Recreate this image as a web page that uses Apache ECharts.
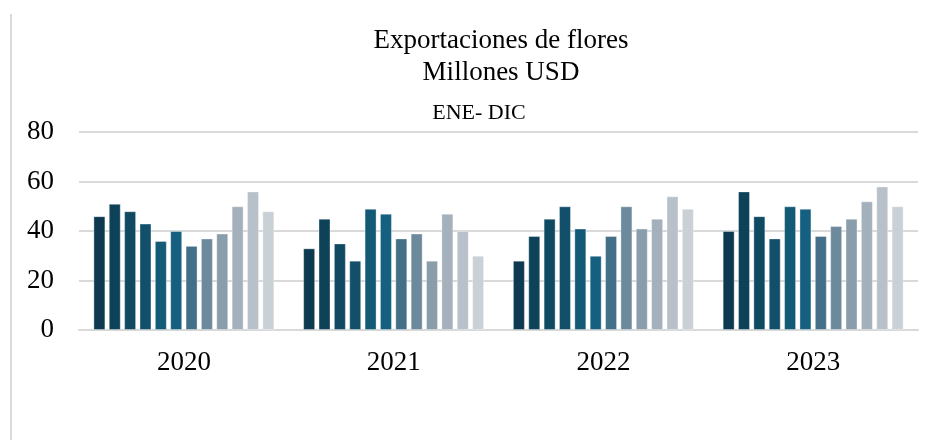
<!DOCTYPE html>
<html>
<head>
<meta charset="utf-8">
<script src="https://cdn.jsdelivr.net/npm/echarts@6/dist/echarts.min.js"></script>
<style>
  html, body { margin: 0; padding: 0; background: #fff; }
  #main { width: 935px; height: 440px; }
  #edge { position: absolute; left: 10px; top: 14px; width: 0; height: 426px; border-left: 2px solid #d9d9d9; }
</style>
</head>
<body>
<div id="edge"></div>
<div id="main"></div>
<script>
var years = ['2020', '2021', '2022', '2023'];
var months = ['ENE', 'FEB', 'MAR', 'ABR', 'MAY', 'JUN', 'JUL', 'AGO', 'SEP', 'OCT', 'NOV', 'DIC'];

// exportaciones mensuales por año (millones USD)
var v2020 = [46, 51, 48, 43, 36, 40, 34, 37, 39, 50, 56, 48];
var v2021 = [33, 45, 35, 28, 49, 47, 37, 39, 28, 47, 40, 30];
var v2022 = [28, 38, 45, 50, 41, 30, 38, 50, 41, 45, 54, 49];
var v2023 = [40, 56, 46, 37, 50, 49, 38, 42, 45, 52, 58, 50];

var yTicks = [0, 20, 40, 60, 80];

var colores = ['#0d3a50', '#0e4259', '#0f4a62', '#114f6a', '#125a75', '#155f80',
  '#436f88', '#6d8a9c', '#8a9dab', '#a4b0bb', '#b8c0c9', '#c9d0d6'];

var porAnio = [v2020, v2021, v2022, v2023];

var series = months.map(function (m, i) {
  return {
    name: m,
    type: 'bar',
    barWidth: 12,
    barGap: '28%',
    barCategoryGap: '13%',
    itemStyle: {
      color: colores[i],
      borderColor: 'rgba(255,255,255,0.35)',
      borderWidth: 1
    },
    data: porAnio.map(function (arr) { return arr[i]; })
  };
});

var chart = echarts.init(document.getElementById('main'));
chart.setOption({
  animation: false,
  textStyle: { fontFamily: 'Liberation Serif' },
  title: [
    {
      text: 'Exportaciones de flores\nMillones USD',
      left: 496,
      top: 20,
      textAlign: 'center',
      textStyle: { fontFamily: 'Liberation Serif', fontSize: 27, fontWeight: 'normal', color: '#000', lineHeight: 32 }
    },
    {
      text: 'ENE- DIC',
      left: 474,
      top: 97,
      textAlign: 'center',
      textStyle: { fontFamily: 'Liberation Serif', fontSize: 22, fontWeight: 'normal', color: '#000', lineHeight: 22 }
    }
  ],
  legend: { show: false },
  grid: { left: 79, right: 17, top: 132, bottom: 110, containLabel: false },
  xAxis: {
    type: 'category',
    data: years,
    axisTick: { show: false },
    axisLine: { lineStyle: { color: '#d9d9d9', width: 2 } },
    axisLabel: { color: '#000', fontSize: 27, fontFamily: 'Liberation Serif', margin: 19 }
  },
  yAxis: {
    type: 'value',
    min: yTicks[0],
    max: yTicks[yTicks.length - 1],
    interval: 20,
    axisLine: { show: false },
    axisTick: { show: false },
    splitLine: { lineStyle: { color: '#d9d9d9', width: 2 } },
    axisLabel: { color: '#000', fontSize: 27, fontFamily: 'Liberation Serif', margin: 25 }
  },
  series: series
});
</script>
</body>
</html>
